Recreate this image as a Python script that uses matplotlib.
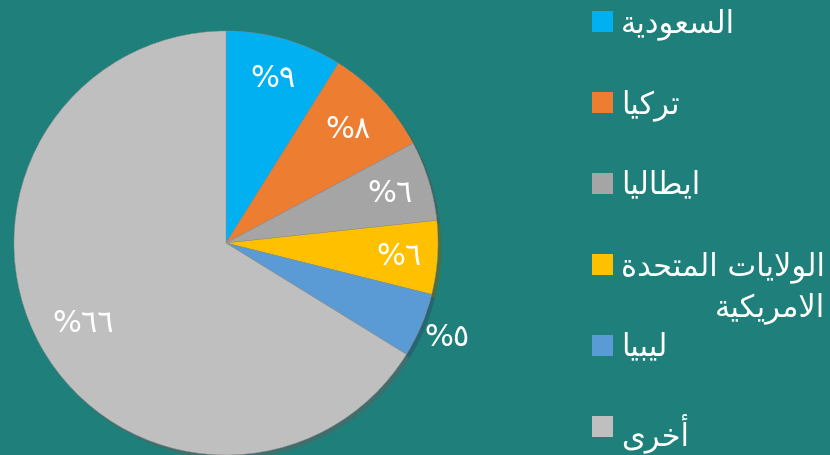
import numpy as np
import matplotlib
matplotlib.use('Agg')
import matplotlib.pyplot as plt
from matplotlib.patches import Rectangle

# Data
countries = ['السعودية', 'تركيا', 'ايطاليا', 'الولايات المتحدة\nالامريكية', 'ليبيا', 'أخرى']
shares = [8.9, 8.3, 6.1, 5.6, 4.9, 66.2]
pct_labels = [9, 8, 6, 6, 5, 66]
colors = ['#00B0F0', '#ED7D31', '#A5A5A5', '#FFC000', '#5B9BD5', '#BFBFBF']
bg = '#1F7F7A'

# matplotlib has no arabic shaping, so pick presentation forms by hand
FORMS = {
    'ا': ('\uFE8D', '\uFE8E', None, None),
    'أ': ('\uFE83', '\uFE84', None, None),
    'ب': ('\uFE8F', '\uFE90', '\uFE91', '\uFE92'),
    'ة': ('\uFE93', '\uFE94', None, None),
    'ت': ('\uFE95', '\uFE96', '\uFE97', '\uFE98'),
    'ح': ('\uFEA1', '\uFEA2', '\uFEA3', '\uFEA4'),
    'خ': ('\uFEA5', '\uFEA6', '\uFEA7', '\uFEA8'),
    'د': ('\uFEA9', '\uFEAA', None, None),
    'ر': ('\uFEAD', '\uFEAE', None, None),
    'س': ('\uFEB1', '\uFEB2', '\uFEB3', '\uFEB4'),
    'ط': ('\uFEC1', '\uFEC2', '\uFEC3', '\uFEC4'),
    'ع': ('\uFEC9', '\uFECA', '\uFECB', '\uFECC'),
    'ك': ('\uFED9', '\uFEDA', '\uFEDB', '\uFEDC'),
    'ل': ('\uFEDD', '\uFEDE', '\uFEDF', '\uFEE0'),
    'م': ('\uFEE1', '\uFEE2', '\uFEE3', '\uFEE4'),
    'و': ('\uFEED', '\uFEEE', None, None),
    'ى': ('\uFEEF', '\uFEF0', None, None),
    'ي': ('\uFEF1', '\uFEF2', '\uFEF3', '\uFEF4'),
    'لا': ('\uFEFB', '\uFEFC', None, None),
}


def shape_line(line):
    chars = []
    i = 0
    while i < len(line):
        if line[i] == 'ل' and i + 1 < len(line) and line[i + 1] == 'ا':
            chars.append('لا')
            i += 2
        else:
            chars.append(line[i])
            i += 1
    out = []
    for k, c in enumerate(chars):
        f = FORMS.get(c)
        if f is None:
            out.append(c)
            continue
        prev = FORMS.get(chars[k - 1]) if k > 0 else None
        nxt = FORMS.get(chars[k + 1]) if k + 1 < len(chars) else None
        jp = prev is not None and prev[2] is not None
        jn = f[2] is not None and nxt is not None
        out.append(f[3] if jp and jn else f[1] if jp else f[2] if jn else f[0])
    return ''.join(reversed(out))


def shape(text):
    return '\n'.join(shape_line(l) for l in text.split('\n'))


def arabic_digits(n):
    return ''.join(chr(0x0660 + int(d)) for d in str(n))


plt.rcParams['font.family'] = ['DejaVu Sans']

fig = plt.figure(figsize=(8.3, 4.56), dpi=100, facecolor=bg)
ax = fig.add_axes([14 / 830, 0, 424 / 830, 424 / 456])
ax.set_facecolor(bg)

wedges, _ = ax.pie(shares, colors=colors, startangle=90, counterclock=False,
                   radius=1, wedgeprops=dict(linewidth=0.3, edgecolor='#8f8f8f'),
                   shadow={'ox': 0.01, 'oy': -0.012, 'shade': 0.5})
ax.set_xlim(-1, 1)
ax.set_ylim(-1, 1)
ax.set_aspect('equal')
ax.axis('off')

# percent labels
dists = [0.81, 0.79, 0.81, 0.82, 1.13, 0.77]
for w, p, d in zip(wedges, pct_labels, dists):
    ang = np.deg2rad((w.theta1 + w.theta2) / 2)
    ax.text(d * np.cos(ang), d * np.sin(ang), '%' + arabic_digits(p),
            color='white', fontsize=22, ha='center', va='center')

# legend on the right
y0 = 1 - 23 / 456
step = 81 / 456
for i, (name, c) in enumerate(zip(countries, colors)):
    y = y0 - i * step
    fig.patches.append(Rectangle((592 / 830, y - 10 / 456), 21 / 830, 21 / 456,
                                 transform=fig.transFigure, facecolor=c,
                                 edgecolor='none'))
    fig.text(621 / 830, y + 15 / 456, shape(name), color='white', fontsize=22,
             ha='left', va='top', multialignment='right', linespacing=1.4)

fig.savefig('out.png', dpi=100, facecolor=bg)
